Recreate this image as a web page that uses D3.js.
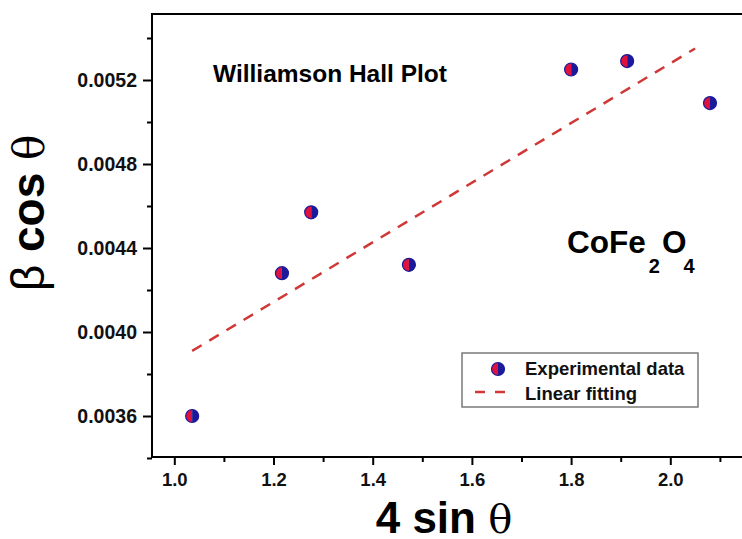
<!DOCTYPE html>
<html>
<head>
<meta charset="utf-8">
<script src="https://cdn.jsdelivr.net/npm/d3@7"></script>
<style>
  body { margin: 0; background: #fff; }
  svg { display: block; font-family: "Liberation Sans", Arial, sans-serif; }
</style>
</head>
<body>
<svg id="chart" width="742" height="539"></svg>
<script>
// measured points (4 sin theta, beta cos theta)
const xValues = [1.036, 1.217, 1.276, 1.473, 1.800, 1.913, 2.080];
const yValues = [0.00360, 0.00428, 0.00457, 0.00432, 0.00525, 0.00529, 0.00509];
// linear fit end points
const fitX = [1.036, 2.050];
const fitY = [0.00391, 0.00535];
const xTicks = [1.0, 1.2, 1.4, 1.6, 1.8, 2.0];
const xMinor = [1.1, 1.3, 1.5, 1.7, 1.9, 2.1];
const yTicks = [0.0036, 0.0040, 0.0044, 0.0048, 0.0052];
const yMinor = [0.0034, 0.0038, 0.0042, 0.0046, 0.0050, 0.0054];
const legendNames = ['Experimental data', 'Linear fitting'];

function draw() {
    const svg = d3.select('#chart');

    var xs = d3.scaleLinear().domain([1.0, 2.0]).range([174.3, 670.3]);
    var ys = d3.scaleLinear().domain([0.0036, 0.0052]).range([416, 80]);
    var left = 152, right = 745, top = 14, bottom = 457;

    var red = '#e0113c', blue = '#1a1a9a';

    // frame
    svg.append('rect')
        .attr('x', left).attr('y', top)
        .attr('width', right - left).attr('height', bottom - top)
        .attr('fill', 'none').attr('stroke', '#000').attr('stroke-width', 2);

    // bottom axis
    const xAxis = svg.append('g')
        .attr('transform', `translate(0,${bottom})`)
        .call(d3.axisBottom(xs).tickValues(xTicks).tickFormat(d3.format('.1f')).tickSize(8).tickPadding(8));
    xAxis.select('.domain').remove();
    xAxis.selectAll('line').attr('stroke-width', 2);
    xAxis.selectAll('text').attr('font-size', 18.5).attr('font-weight', 'bold')
        .attr('font-family', '"Liberation Sans", Arial, sans-serif').attr('fill', '#111');
    svg.append('g')
        .attr('transform', `translate(0,${bottom})`)
        .call(d3.axisBottom(xs).tickValues(xMinor).tickFormat('').tickSize(5))
        .call(g => g.select('.domain').remove())
        .selectAll('line').attr('stroke-width', 2);

    // left axis
    const yAxis = svg.append('g')
        .attr('transform', `translate(${left},0)`)
        .call(d3.axisLeft(ys).tickValues(yTicks).tickFormat(d3.format('.4f')).tickSize(9).tickPadding(6));
    yAxis.select('.domain').remove();
    yAxis.selectAll('line').attr('stroke-width', 2);
    yAxis.selectAll('text').attr('font-size', 19.5).attr('font-weight', 'bold')
        .attr('font-family', '"Liberation Sans", Arial, sans-serif').attr('fill', '#111');
    svg.append('g')
        .attr('transform', `translate(${left},0)`)
        .call(d3.axisLeft(ys).tickValues(yMinor).tickFormat('').tickSize(5))
        .call(g => g.select('.domain').remove())
        .selectAll('line').attr('stroke-width', 2);

    // axis titles
    svg.append('text')
        .attr('x', 444).attr('y', 533)
        .attr('text-anchor', 'middle')
        .attr('font-size', 44).attr('font-weight', 'bold')
        .text('4 sin ')
        .append('tspan').attr('font-weight', 'normal')
        .attr('font-family', '"DejaVu Serif", "Liberation Serif", serif').attr('font-size', 40).text('θ');

    const yt = svg.append('text')
        .attr('transform', 'translate(44,213) rotate(-90)')
        .attr('text-anchor', 'middle')
        .attr('font-size', 46).attr('font-weight', 'bold');
    yt.append('tspan').attr('font-weight', 'normal').text('β');
    yt.append('tspan').text(' cos ');
    yt.append('tspan').attr('font-weight', 'normal')
        .attr('font-family', '"DejaVu Serif", "Liberation Serif", serif').attr('font-size', 42).text('θ');

    // annotations
    svg.append('text')
        .attr('x', 213).attr('y', 82)
        .attr('font-size', 24.5).attr('font-weight', 'bold')
        .text('Williamson Hall Plot');

    const formula = svg.append('text')
        .attr('x', 567).attr('y', 253)
        .attr('font-size', 31.5).attr('font-weight', 'bold');
    formula.append('tspan').text('CoFe');
    formula.append('tspan').attr('dx', 3).attr('dy', 20).attr('font-size', 20).text('2');
    formula.append('tspan').attr('dx', 2).attr('dy', -20).text('O');
    formula.append('tspan').attr('dx', -3).attr('dy', 20).attr('font-size', 20).text('4');

    // fit line
    const fitData = fitX.map((x, i) => ({x: x, y: fitY[i]}));
    svg.append('path')
        .datum(fitData)
        .attr('fill', 'none')
        .attr('stroke', '#d03838')
        .attr('stroke-width', 2.5)
        .attr('stroke-dasharray', '11,9')
        .attr('d', d3.line().x(d => xs(d.x)).y(d => ys(d.y)));

    // half red / half blue markers
    const r = 6.5;
    const leftHalf = `M0,${-r} A${r},${r} 0 0,0 0,${r} Z`;
    const rightHalf = `M0,${-r} A${r},${r} 0 0,1 0,${r} Z`;
    function marker(g) {
        g.append('path').attr('d', leftHalf).attr('fill', red);
        g.append('path').attr('d', rightHalf).attr('fill', blue);
        g.append('circle').attr('r', r).attr('fill', 'none').attr('stroke', blue).attr('stroke-width', 1.2);
    }
    const points = xValues.map((x, i) => ({x: x, y: yValues[i]}));
    svg.selectAll('.pt').data(points).enter()
        .append('g').attr('class', 'pt')
        .attr('transform', d => `translate(${xs(d.x)},${ys(d.y)})`)
        .each(function() { marker(d3.select(this)); });

    // legend
    const legend = svg.append('g').attr('transform', 'translate(462,353)');
    legend.append('rect')
        .attr('width', 236).attr('height', 54)
        .attr('fill', '#fff').attr('stroke', '#7a7a7a').attr('stroke-width', 1.5);
    const lm = legend.append('g').attr('transform', 'translate(36,16)');
    marker(lm);
    legend.append('line')
        .attr('x1', 13).attr('x2', 43).attr('y1', 39).attr('y2', 39)
        .attr('stroke', '#d03838').attr('stroke-width', 2.5).attr('stroke-dasharray', '10,10');
    legend.selectAll('.lt').data(legendNames).enter()
        .append('text').attr('class', 'lt')
        .attr('x', 63).attr('y', (d, i) => 22 + i * 25)
        .attr('font-size', 18.5).attr('font-weight', 'bold')
        .attr('fill', '#111')
        .text(d => d);
}

window.onload = draw;
</script>
</body>
</html>
